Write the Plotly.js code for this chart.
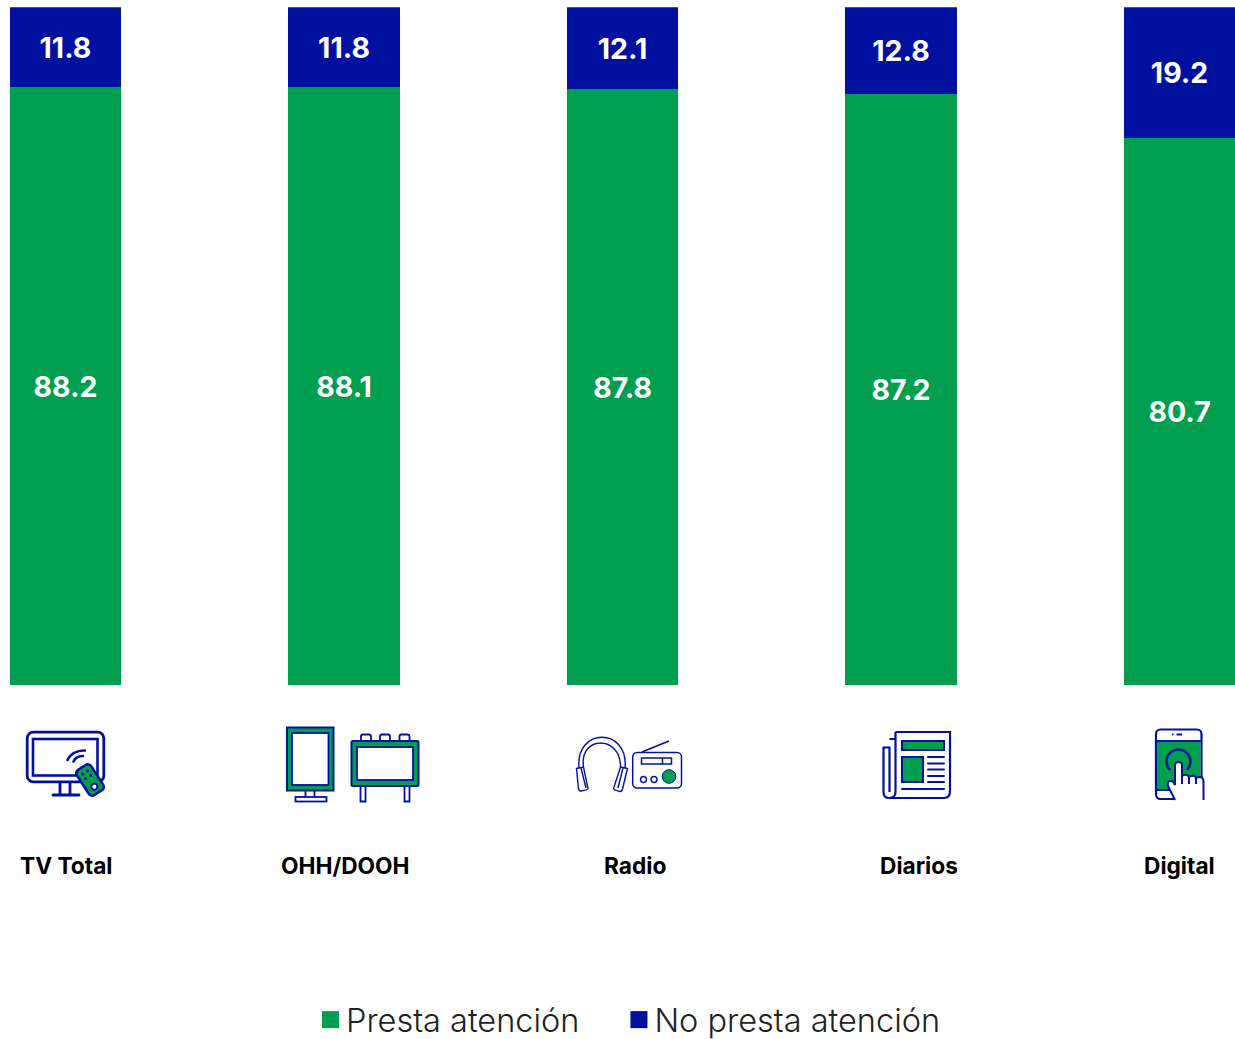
<!DOCTYPE html>
<html><head><meta charset="utf-8">
<script src="https://cdn.plot.ly/plotly-3.0.1.min.js"></script>
<style>html,body{margin:0;padding:0;background:#fff;overflow:hidden;height:1039px}</style></head>
<body><div id="chart" style="width:1235px;height:1053px"></div>
<script>
const categories = ["TV Total","OHH/DOOH","Radio","Diarios","Digital"];
const presta = [88.2,88.1,87.8,87.2,80.7];
const noPresta = [11.8,11.8,12.1,12.8,19.2];
const labelShift = [0,1,12,18,0];
const BLUE = "#00109f", GREEN = "#009e4f";
const W = 1235, H = 1053;

const s = `stroke="${BLUE}" fill="none"`;
const icons = [
 {x:20,y:725,w:95,h:80,svg:`
  <rect x="27.2" y="732.2" width="76.6" height="49.6" rx="6" ${s} stroke-width="2.8"/>
  <rect x="33" y="739" width="64.5" height="36.5" ${s} stroke-width="2.6"/>
  <path d="M60 783V794M70 783V794M53 795H79" ${s} stroke-width="2.8" stroke-linecap="round"/>
  <path d="M67.5 760C70 754 77 750 85 750.5M73.5 761.5C75 758 79 756 83 756" ${s} stroke-width="2.6" stroke-linecap="round"/>
  <g transform="translate(90 780) rotate(-33)">
   <rect x="-8.5" y="-15" width="17" height="30" rx="4" fill="${GREEN}" stroke="${BLUE}" stroke-width="2.6"/>
   <g fill="${BLUE}"><circle cx="-3" cy="-9" r="1.5"/><circle cx="3" cy="-9" r="1.5"/><circle cx="-3" cy="-3.5" r="1.5"/><circle cx="3" cy="-3.5" r="1.5"/></g>
   <circle cx="0" cy="8" r="3" fill="#fff" stroke="${BLUE}" stroke-width="2"/>
  </g>`},
 {x:280,y:720,w:145,h:90,svg:`
  <rect x="287" y="727.5" width="46.5" height="63" fill="${GREEN}" stroke="${BLUE}" stroke-width="2"/>
  <rect x="292" y="733" width="36.5" height="52" fill="#fff" stroke="${BLUE}" stroke-width="1.8"/>
  <path d="M305.5 791V797M314.5 791V797" ${s} stroke-width="1.8"/>
  <rect x="295.5" y="797" width="31" height="4.5" ${s} stroke-width="1.8"/>
  <path d="M361 741V736.5Q361 734.5 363 734.5H369Q371 734.5 371 736.5V741M380 741V736.5Q380 734.5 382 734.5H388Q390 734.5 390 736.5V741M399.5 741V736.5Q399.5 734.5 401.5 734.5H407.5Q409.5 734.5 409.5 736.5V741" ${s} stroke-width="1.8"/>
  <rect x="351.5" y="741" width="67" height="45" rx="1.5" fill="${GREEN}" stroke="${BLUE}" stroke-width="2"/>
  <rect x="357" y="747" width="56" height="33" fill="#fff" stroke="${BLUE}" stroke-width="1.8"/>
  <path d="M360.5 786V801.5H365.5V786M404.5 786V801.5H409.5V786" ${s} stroke-width="1.8"/>`},
 {x:570,y:730,w:120,h:70,svg:`
  <path d="M579 768C575 727 629 727 625 768M583.5 767C579 735 621 735 620.5 767" ${s} stroke-width="1.4"/>
  <path d="M576.5 768.5L583.5 767L588 788.5Q588 790 581 791Q579 791 578.5 789ZM581 768L586 788" ${s} stroke-width="1.4"/>
  <path d="M627.5 768.5L620.5 767L613.5 788.5Q613.5 790 620 791.5Q622 791.5 622.5 789ZM623 768L618 788" ${s} stroke-width="1.4"/>
  <rect x="632.7" y="752.5" width="48.8" height="35.5" rx="4.5" ${s} stroke-width="1.5"/>
  <path d="M642 752L669 741" ${s} stroke-width="1.5"/>
  <rect x="641.5" y="758" width="30" height="6" ${s} stroke-width="1.5"/>
  <path d="M662.5 758V764" ${s} stroke-width="1.5"/>
  <circle cx="643.5" cy="779.5" r="3" ${s} stroke-width="1.4"/>
  <circle cx="654" cy="779.5" r="3" ${s} stroke-width="1.4"/>
  <circle cx="669" cy="776.5" r="6.8" fill="${GREEN}" stroke="${BLUE}" stroke-width="1"/>`},
 {x:875,y:725,w:85,h:80,svg:`
  <path d="M895.5 732H950V791Q950 798 944 798H889" ${s} stroke-width="2.2"/>
  <path d="M895.5 732V792Q895.5 798 889 798Q883.5 798 883.5 792V747.5H889.5V792M889.5 739H895" ${s} stroke-width="2.2"/>
  <rect x="902" y="741" width="42" height="9" fill="${GREEN}" stroke="${BLUE}" stroke-width="2"/>
  <rect x="902" y="757" width="21" height="25" fill="${GREEN}" stroke="${BLUE}" stroke-width="2"/>
  <path d="M928 757H944M928 763.5H944M928 769.5H944M928 776H944M928 782H944M902 789H944" ${s} stroke-width="2" stroke-linecap="round"/>`},
 {x:1145,y:720,w:70,h:90,svg:`
  <rect x="1156" y="729.5" width="45.5" height="69.5" rx="4.5" fill="#fff" stroke="${BLUE}" stroke-width="2.2"/>
  <rect x="1157" y="741" width="43.5" height="49" fill="${GREEN}"/>
  <path d="M1156 741H1201M1156 790H1170" ${s} stroke-width="2"/>
  <path d="M1172 734.5H1173.5M1176.5 734.5H1182" ${s} stroke-width="2"/>
  <path d="M1170 770A12 12 0 1 1 1187 770" ${s} stroke-width="2.4"/>
  <path d="M1175 801L1168 786Q1167 781 1171 781Q1173 781 1175 785L1175 765Q1175 762 1178.5 762Q1182 762 1182 765V776Q1187 774 1190 777Q1195 775 1197 778Q1203 776 1204 781V801Z" fill="#fff" stroke="none"/>
  <path d="M1175 800L1168 786Q1167 781 1170.5 781Q1173 780.5 1175 785V765Q1175 762 1178.5 762Q1182 762 1182 765V784M1182 776Q1187 773 1189 777V784M1189 777Q1194 774 1196 778V784M1196 778Q1203 775 1203.5 781V800" ${s} stroke-width="2"/>`}
];
const images = icons.map(ic => ({
  source: "data:image/svg+xml;charset=utf-8," + encodeURIComponent(
    `<svg xmlns="http://www.w3.org/2000/svg" width="${ic.w*2}" height="${ic.h*2}" viewBox="${ic.x} ${ic.y} ${ic.w} ${ic.h}">${ic.svg}</svg>`),
  xref:"paper", yref:"paper", x:ic.x/W, y:1-ic.y/H, sizex:ic.w/W, sizey:ic.h/H,
  xanchor:"left", yanchor:"top", sizing:"stretch", layer:"above"
}));

const barFont = {family:"Inter, Roboto, sans-serif", size:28.5, color:"#fff", weight:700};
function bar(name, vals, color){
  return {type:"bar", name, x:categories, y:vals, text:vals.map(v=>v.toFixed(1)),
    textposition:"inside", insidetextanchor:"middle", textangle:0, constraintext:"none",
    textfont:barFont, marker:{color, line:{width:0}}, hoverinfo:"x+y+name"};
}
const annotations = categories.map((c,i)=>({
  text:c, x:c, xref:"x", y:1-865/H, yref:"paper", xshift:labelShift[i], showarrow:false,
  xanchor:"center", yanchor:"middle",
  font:{family:"Inter, Roboto, sans-serif", size:22.7, color:"#000", weight:700}
}));
const layout = {
  width:W, height:H, margin:{l:0,r:0,t:0,b:0}, paper_bgcolor:"#fff", plot_bgcolor:"#fff",
  barmode:"stack", barnorm:"percent", bargap:0.6, showlegend:true,
  xaxis:{type:"category", categoryorder:"array", categoryarray:categories, range:[-0.2352,4.199], visible:false},
  yaxis:{range:[0,100], domain:[(H-685.3)/H,(H-7.3)/H], visible:false},
  legend:{orientation:"h", x:306/W, xanchor:"left", y:1-1020/H, yanchor:"middle", traceorder:"normal",
    font:{family:"Inter, Roboto, sans-serif", size:32.5, color:"#222", weight:300},
    bgcolor:"rgba(0,0,0,0)", borderwidth:0},
  images, annotations
};
Plotly.newPlot("chart",[bar("Presta atención",presta,GREEN),bar("No presta atención",noPresta,BLUE)],layout,{displayModeBar:false,staticPlot:true}).then(()=>{
  document.querySelectorAll(".legend .traces .legendpoints path").forEach(p=>{
    const t=p.getAttribute("transform")||"";
    p.setAttribute("transform",t+" translate(4.5,0) scale(1.42)");
  });
  const sb=document.querySelector(".legend .scrollbox"); if(sb) sb.removeAttribute("clip-path");
  const second=document.querySelectorAll(".legend .traces")[1];
  const m=/translate\(([-\d.]+),\s*([-\d.]+)\)/.exec(second.getAttribute("transform"));
  second.setAttribute("transform",`translate(${+m[1]+30},${m[2]})`);
});
</script></body></html>
